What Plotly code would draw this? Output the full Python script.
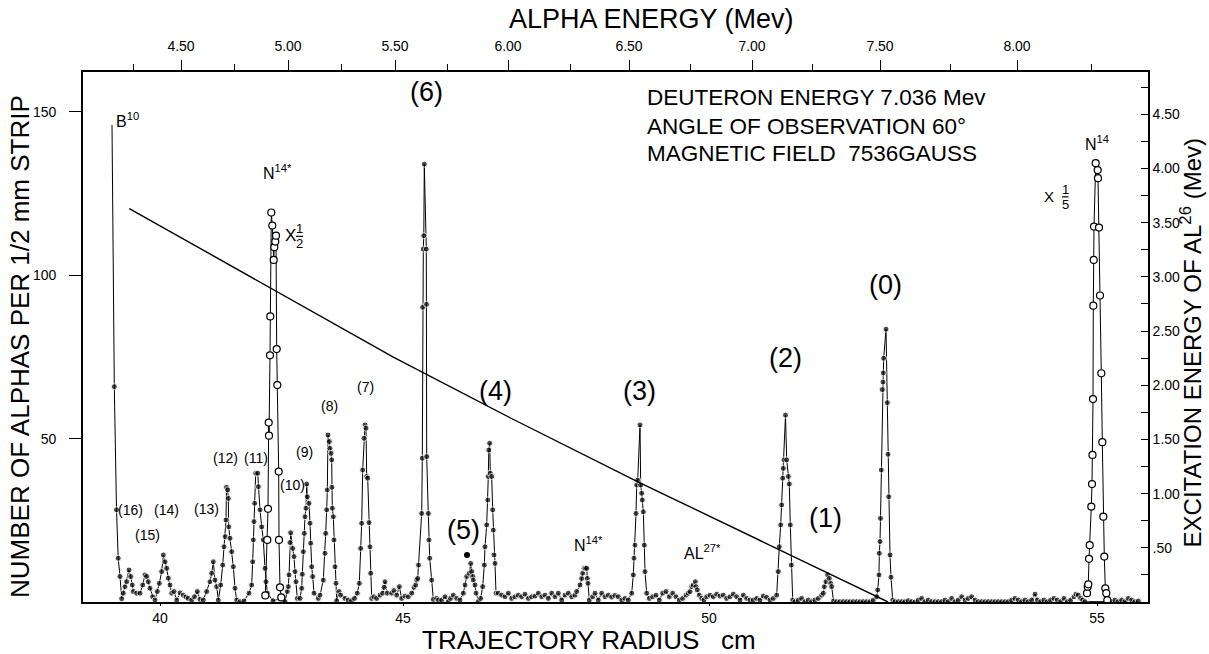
import plotly.graph_objects as go

FONT = "Liberation Sans, Arial, sans-serif"

# ---- axis tick data (positions along the plate, in plate-position units) ----
radius_tick_pos = [160, 403, 709, 1097]
radius_tick_text = ["40", "45", "50", "55"]

energy_major_pos = [181, 288, 395, 508, 629, 752, 880, 1017]
energy_major_text = ["4.50", "5.00", "5.50", "6.00", "6.50", "7.00", "7.50", "8.00"]
energy_minor_pos = [133, 234, 341, 447, 570, 690, 812, 950, 1091]

count_ticks = [50, 100, 150]
excitation_ticks = [0.5, 1.0, 1.5, 2.0, 2.5, 3.0, 3.5, 4.0, 4.5]
excitation_text = [".50", "1.00", "1.50", "2.00", "2.50", "3.00", "3.50", "4.00", "4.50"]

# ---- spectrum: filled points (position, counts per 1/2 mm strip) ----
filled_points = [
    (112.0, 146.0), (114.3, 65.9), (116.5, 28.2), (118.2, 13.4), (120.0, 7.8), (121.7, 1.0), (123.3, 2.7),
    (125.0, 4.7), (126.7, 6.2), (129.0, 9.8), (130.7, 7.8), (132.3, 5.2), (133.3, 3.2), (136.7, 2.7),
    (140.0, 2.7), (142.7, 5.2), (145.0, 8.3), (146.7, 7.8), (148.3, 6.2), (150.0, 4.2), (152.7, 1.6),
    (155.0, 0.6), (157.3, 3.2), (159.3, 5.7), (161.7, 9.3), (163.3, 14.4), (165.0, 12.3), (166.7, 10.3),
    (168.3, 7.3), (170.0, 5.2), (171.7, 2.7), (174.0, 3.2), (176.7, 0.6), (180.0, 2.8), (183.3, 2.1),
    (186.0, 1.5), (188.3, 1.1), (191.7, 0.6), (194.5, 1.6), (197.3, 3.2), (200.0, 0.8), (203.3, 0.6),
    (206.7, 3.2), (210.0, 6.2), (211.7, 8.8), (213.3, 12.3), (215.0, 6.7), (216.7, 4.7), (218.3, 0.6),
    (220.7, 5.2), (222.7, 11.3), (224.0, 16.9), (225.3, 20.0), (226.0, 25.1), (226.5, 35.1), (227.7, 34.3),
    (228.3, 31.7), (228.7, 23.0), (230.0, 19.5), (231.7, 15.4), (233.3, 10.8), (235.0, 4.2), (236.7, 0.6),
    (240.0, 0.1), (244.0, 0.3), (249.0, 2.7), (251.7, 5.2), (252.7, 12.3), (253.3, 19.0), (254.0, 24.6),
    (254.7, 30.2), (255.7, 39.4), (257.7, 39.4), (258.3, 35.3), (260.0, 28.2), (261.7, 23.0), (263.3, 19.0),
    (265.0, 10.3), (266.0, 6.2), (267.3, 2.7), (273.0, 0.4), (280.5, 1.0), (285.0, 0.1), (287.3, 3.2),
    (288.3, 4.7), (289.0, 8.3), (290.0, 18.2), (290.7, 21.2), (292.7, 16.4), (294.0, 13.9), (295.0, 9.3),
    (296.0, 6.2), (297.3, 1.1), (300.0, 1.1), (301.7, 4.2), (302.3, 8.5), (303.3, 15.4), (304.3, 21.0),
    (305.0, 26.1), (306.0, 28.7), (306.7, 36.1), (307.3, 32.2), (309.0, 30.2), (310.0, 24.1), (310.7, 18.0),
    (311.7, 10.8), (312.7, 7.8), (314.0, 2.7), (318.3, 1.1), (320.0, 2.1), (323.3, 6.7), (325.0, 14.9),
    (325.7, 21.0), (326.7, 28.2), (327.3, 34.3), (328.0, 51.1), (329.3, 49.1), (330.0, 47.0), (331.0, 45.5),
    (331.7, 43.5), (331.9, 35.1), (332.3, 28.7), (333.3, 26.1), (334.0, 19.0), (335.0, 10.8), (336.0, 5.7),
    (336.7, 0.4), (339.0, 3.2), (340.7, 2.1), (345.0, 1.1), (348.3, 0.6), (351.7, 0.4), (354.5, 1.1),
    (357.3, 2.7), (359.3, 5.7), (360.7, 16.4), (361.7, 24.1), (362.7, 40.4), (364.0, 50.1), (365.0, 54.2),
    (366.0, 53.2), (366.7, 38.4), (367.7, 37.9), (369.0, 24.3), (370.0, 16.9), (370.7, 8.8), (371.7, 1.1),
    (374.0, 1.6), (376.7, 1.1), (380.0, 2.1), (382.7, 2.7), (384.0, 4.5), (385.0, 6.2), (387.3, 2.7),
    (391.7, 2.7), (394.0, 3.5), (396.7, 2.1), (399.3, 4.7), (401.7, 1.1), (405.0, 1.8), (408.3, 1.6),
    (411.7, 2.7), (414.0, 4.5), (415.7, 5.2), (416.7, 6.7), (417.7, 7.2), (418.5, 11.3), (421.7, 27.1),
    (422.3, 44.0), (422.7, 90.2), (423.3, 108.0), (423.8, 112.1), (424.3, 134.0), (426.3, 108.0), (426.5, 91.1),
    (426.7, 44.5), (428.3, 27.1), (429.0, 19.0), (429.7, 13.4), (431.7, 6.7), (433.3, 0.8), (436.7, 1.1),
    (438.5, 0.6), (441.7, 0.6), (445.0, 1.6), (448.3, 0.1), (450.5, 1.1), (453.3, 2.1), (456.7, 1.1),
    (460.0, 0.6), (463.3, 2.7), (465.0, 5.2), (466.7, 7.8), (469.3, 8.8), (470.7, 11.8), (471.7, 9.3),
    (472.7, 7.8), (473.3, 6.7), (475.0, 5.2), (476.0, 2.7), (478.3, 0.1), (480.7, 1.1), (482.7, 4.7),
    (484.3, 11.3), (485.0, 16.9), (486.7, 23.6), (487.8, 31.2), (488.3, 38.4), (488.8, 46.5), (489.7, 48.6),
    (490.3, 39.4), (491.7, 38.4), (492.7, 28.2), (493.3, 22.0), (494.0, 14.4), (495.0, 11.8), (496.0, 2.7),
    (498.3, 2.7), (501.7, 2.1), (505.0, 1.6), (508.3, 2.7), (511.7, 1.1), (515.0, 1.6), (518.3, 2.1),
    (521.7, 1.6), (525.0, 2.4), (528.3, 1.1), (531.7, 1.6), (535.0, 1.8), (538.3, 2.7), (541.7, 1.6),
    (545.0, 2.1), (548.3, 1.1), (551.7, 2.7), (555.0, 1.6), (558.3, 2.7), (561.7, 0.6), (565.0, 2.1),
    (568.3, 2.7), (571.7, 1.6), (575.0, 2.1), (576.7, 3.2), (580.0, 5.2), (581.7, 7.2), (582.7, 8.8),
    (584.0, 10.3), (585.3, 10.3), (586.7, 10.3), (587.3, 7.2), (588.0, 5.7), (589.3, 0.6), (592.7, 1.6),
    (595.0, 2.7), (598.3, 0.6), (601.7, 2.7), (605.0, 1.6), (608.3, 2.1), (611.7, 1.5), (615.0, 2.0),
    (618.3, 1.6), (621.7, 0.6), (625.0, 1.1), (628.3, 0.6), (631.7, 2.7), (633.3, 8.3), (634.0, 13.4),
    (635.0, 17.4), (636.0, 27.1), (636.7, 35.8), (637.7, 37.3), (640.0, 54.2), (640.7, 35.8), (641.7, 33.3),
    (642.3, 31.2), (643.3, 27.6), (644.3, 17.4), (645.0, 9.3), (646.7, 2.7), (649.3, 1.1), (652.7, 1.6),
    (656.0, 2.1), (659.3, 0.6), (662.7, 2.7), (666.0, 3.2), (669.3, 1.6), (672.7, 2.7), (676.0, 1.6),
    (679.3, 0.6), (682.7, 1.1), (686.0, 2.1), (688.3, 2.7), (690.0, 3.2), (691.7, 4.7), (693.3, 5.2),
    (695.3, 6.2), (696.0, 4.7), (697.3, 3.7), (699.3, 2.1), (701.7, 1.1), (704.0, 0.6), (706.7, 1.6),
    (710.0, 2.1), (713.3, 1.6), (716.7, 2.4), (720.0, 1.8), (723.3, 2.1), (726.7, 1.1), (730.0, 1.6),
    (733.3, 2.4), (736.7, 1.6), (740.0, 0.6), (743.3, 2.1), (746.7, 1.1), (750.0, 0.6), (753.3, 0.6),
    (756.7, 1.1), (760.0, 0.6), (763.3, 1.8), (766.7, 1.4), (770.0, 0.6), (773.3, 1.1), (776.7, 2.1),
    (778.3, 9.3), (779.3, 16.9), (780.7, 23.6), (781.7, 29.7), (782.7, 37.9), (783.3, 40.9), (784.0, 43.5),
    (785.5, 57.2), (786.7, 43.5), (788.3, 38.4), (789.3, 36.1), (790.3, 23.6), (791.3, 11.3), (792.7, 0.6),
    (795.0, 0.1), (798.3, 0.6), (801.7, 1.1), (805.0, 0.1), (808.3, 0.6), (811.7, 0.1), (815.0, 0.6),
    (818.3, 1.1), (821.7, 2.1), (823.3, 2.7), (824.3, 4.7), (826.0, 6.2), (827.7, 8.3), (829.3, 7.2),
    (830.7, 5.7), (831.7, 4.7), (833.5, 0.3), (836.7, 0.1), (840.0, 0.1), (843.3, 0.1), (846.7, 0.1),
    (850.0, 0.1), (853.3, 0.1), (856.7, 0.1), (860.0, 0.1), (863.3, 0.1), (866.7, 0.1), (870.0, 0.1),
    (873.3, 0.6), (876.7, 1.6), (877.7, 3.7), (879.0, 8.3), (879.3, 14.9), (880.0, 18.5), (880.5, 25.6),
    (881.3, 40.4), (882.3, 65.0), (883.0, 67.3), (883.3, 70.1), (883.7, 74.6), (886.0, 83.5), (887.3, 61.0),
    (888.0, 45.2), (888.7, 32.2), (890.0, 14.4), (891.0, 7.6), (892.7, 0.6), (895.0, 0.1), (898.3, 0.1),
    (901.7, 0.1), (905.0, 0.1), (908.3, 0.4), (911.7, 0.1), (915.0, 0.0), (918.3, 0.6), (921.7, 1.1),
    (925.0, 0.1), (928.3, 0.6), (931.7, 0.1), (935.0, 0.1), (938.3, 0.1), (941.7, 0.1), (945.0, 0.6),
    (948.3, 0.1), (951.7, 1.1), (955.0, 0.1), (958.3, 0.6), (961.7, 1.6), (965.0, 0.6), (968.3, 1.1),
    (971.7, 1.6), (975.0, 0.6), (978.3, 0.1), (981.7, 0.1), (985.0, 0.1), (988.3, 0.1), (991.7, 0.1),
    (995.0, 0.1), (998.3, 0.1), (1001.7, 0.1), (1005.0, 0.1), (1008.3, 0.1), (1011.7, 0.6), (1015.0, 1.1),
    (1018.3, 0.6), (1021.7, 0.1), (1025.0, 0.6), (1028.3, 0.1), (1031.7, 0.6), (1035.0, 2.4), (1037.3, 0.6),
    (1040.7, 0.1), (1044.0, 0.6), (1047.3, 0.1), (1050.7, 0.6), (1054.0, 1.1), (1057.3, 0.6), (1060.7, 0.1),
    (1064.0, 1.1), (1067.3, 0.1), (1070.7, 0.6), (1074.0, 1.6), (1076.0, 2.4), (1078.3, 2.1), (1080.7, 1.1),
    (1082.7, 0.6), (1085.0, 0.1), (1108.5, 0.3), (1111.7, 0.1), (1115.0, 0.6), (1118.3, 0.1), (1121.7, 0.6),
    (1125.0, 0.1), (1128.3, 1.1), (1131.7, 0.6), (1135.0, 0.1), (1138.3, 0.3),
]

# isolated filled point above peak (5)
stray_pos = [467.0]
stray_counts = [14.4]

# N14* group, plotted x 1/2 (open circles)
n14star_pos = [265.3, 267.3, 268.0, 268.7, 269.0, 270.0, 270.3, 271.3, 272.3, 273.7, 274.3, 275.3,
               276.0, 276.7, 277.3, 278.7, 279.0, 280.0, 281.3]
n14star_counts = [2.0, 19.0, 28.5, 54.9, 50.9, 75.5, 87.4, 119.2, 115.2, 104.7, 108.6, 110.3,
                  112.1, 77.4, 66.4, 39.9, 19.0, 4.5, 1.4]

# N14 ground-state group, plotted x 1/5 (open circles)
n14_pos = [1087.0, 1087.7, 1088.3, 1089.0, 1089.7, 1091.3, 1092.0, 1092.5, 1093.0, 1093.3, 1093.7, 1094.0,
           1095.7, 1097.7, 1098.0, 1099.0, 1100.0, 1101.3, 1102.3, 1103.3, 1104.3, 1105.3, 1106.3, 1107.3]
n14_counts = [2.7, 4.7, 5.4, 13.2, 17.4, 29.2, 36.1, 45.0, 62.1, 90.7, 104.7, 114.9,
              134.3, 132.2, 129.7, 114.6, 93.8, 70.0, 48.9, 26.1, 13.9, 4.2, 2.7, 0.6]

# excitation-energy calibration curve of Al26 (right axis, MeV)
calib_pos = [129.3, 273.3, 393.3, 510.0, 640.0, 888.0]
calib_ex = [3.63, 2.88, 2.26, 1.70, 1.10, 0.0]

filled_pos = [p for p, c in filled_points]
filled_counts = [c for p, c in filled_points]
filled_sizes = [0] + [6] * (len(filled_points) - 1)

fig = go.Figure()
fig.add_trace(go.Scatter(x=filled_pos, y=filled_counts, mode="lines+markers",
                         line=dict(color="black", width=1),
                         marker=dict(color="black", size=filled_sizes),
                         showlegend=False, hoverinfo="skip"))
fig.add_trace(go.Scatter(x=stray_pos, y=stray_counts, mode="markers",
                         marker=dict(color="black", size=6), showlegend=False, hoverinfo="skip"))
for px_, cy_ in ((n14star_pos, n14star_counts), (n14_pos, n14_counts)):
    fig.add_trace(go.Scatter(x=px_, y=cy_, mode="lines+markers",
                             line=dict(color="black", width=1),
                             marker=dict(color="white", size=7, line=dict(color="black", width=1.2)),
                             showlegend=False, hoverinfo="skip"))
fig.add_trace(go.Scatter(x=calib_pos, y=calib_ex, yaxis="y2", mode="lines",
                         line=dict(color="black", width=1.4), showlegend=False, hoverinfo="skip"))
# invisible trace to activate the top energy axis
fig.add_trace(go.Scatter(x=[None], y=[None], xaxis="x2", mode="markers",
                         showlegend=False, hoverinfo="skip"))

X_RANGE = [83, 1148]
fig.update_layout(
    template="none",
    width=1209, height=654,
    margin=dict(l=83, r=61, t=72, b=52, pad=0),
    paper_bgcolor="white", plot_bgcolor="white",
    font=dict(family=FONT, color="black", size=14),
    xaxis=dict(range=X_RANGE, tickmode="array", tickvals=radius_tick_pos, ticktext=radius_tick_text,
               ticks="outside", ticklen=2, tickwidth=1.2, tickcolor="black", automargin=False,
               showline=True, linecolor="black", linewidth=1.6, showgrid=False, zeroline=False,
               tickfont=dict(size=14)),
    xaxis2=dict(range=X_RANGE, overlaying="x", side="top", tickmode="array",
                tickvals=energy_major_pos, ticktext=energy_major_text, automargin=False,
                ticks="outside", ticklen=10, tickwidth=1.2, tickcolor="black", ticklabelstandoff=4,
                minor=dict(tickmode="array", tickvals=energy_minor_pos, ticks="outside",
                           ticklen=6, tickwidth=1, tickcolor="black", showgrid=False),
                showline=True, linecolor="black", linewidth=1.6, showgrid=False, zeroline=False,
                tickfont=dict(size=14)),
    yaxis=dict(range=[0, 162.2], tickmode="array", tickvals=count_ticks, automargin=False,
               ticks="outside", ticklen=12, tickwidth=1.2, tickcolor="black", ticklabelstandoff=10,
               showline=True, linecolor="black", linewidth=1.6, showgrid=False, zeroline=False,
               tickfont=dict(size=14)),
    yaxis2=dict(range=[0, 4.89], overlaying="y", side="right", tickmode="array", automargin=False,
                tickvals=excitation_ticks, ticktext=excitation_text,
                ticks="inside", ticklen=7, tickwidth=1.1, tickcolor="black",
                minor=dict(dtick=0.25, tick0=0, ticks="inside", ticklen=7, tickwidth=1,
                           tickcolor="black", showgrid=False),
                showline=True, linecolor="black", linewidth=1.6, showgrid=False, zeroline=False,
                tickfont=dict(size=14)),
)

ann = []
def T(x, y, text, size, xref="x", yref="y", angle=0, xanchor="center"):
    ann.append(dict(x=x, y=y, xref=xref, yref=yref, text=text, showarrow=False, textangle=angle,
                    xanchor=xanchor, yanchor="middle", font=dict(family=FONT, size=size, color="black")))

# axis titles
T(0.534, 1.100, "ALPHA ENERGY (Mev)", 27, "paper", "paper")
T(0.475, -0.0710, "TRAJECTORY RADIUS\u00a0\u00a0\u00a0cm", 26, "paper", "paper")
T(-0.0592, 0.483, "NUMBER OF ALPHAS PER 1/2 mm STRIP", 26, "paper", "paper", angle=-90)
T(1.040, 0.489, "EXCITATION ENERGY OF AL<sup>26</sup> (Mev)", 24, "paper", "paper", angle=-90)

# experiment conditions
T(645, 154.3, "DEUTERON ENERGY 7.036 Mev", 22.5, xanchor="left")
T(645, 145.4, "ANGLE OF OBSERVATION 60°", 22.5, xanchor="left")
T(645, 137.2, "MAGNETIC FIELD\u00a0\u00a07536GAUSS", 22.5, xanchor="left")

# level labels
for x, y, t, s in [(426, 156.1, "(6)", 27), (885, 97.0, "(0)", 27), (785, 74.7, "(2)", 27),
                   (639, 64.6, "(3)", 27), (495, 64.6, "(4)", 27), (463, 22.0, "(5)", 27),
                   (825, 25.7, "(1)", 27),
                   (365, 65.8, "(7)", 14), (329, 60.0, "(8)", 14), (304, 45.9, "(9)", 14),
                   (292.7, 35.8, "(10)", 14), (255.7, 44.1, "(11)", 14), (225.7, 44.1, "(12)", 14),
                   (206.7, 28.5, "(13)", 14), (166, 28.2, "(14)", 14), (147.3, 20.5, "(15)", 14),
                   (130, 28.2, "(16)", 14)]:
    T(x, y, t, s)

T(127, 147.5, "B<sup>10</sup>", 16)
T(277, 131.5, "N<sup>14*</sup>", 16)
T(588, 17.6, "N<sup>14*</sup>", 16)
T(702, 15.2, "AL<sup>27*</sup>", 16)
T(1097, 140.5, "N<sup>14</sup>", 16)
# x 1/2
T(290, 112.3, "X", 17)
T(299.5, 114.2, "1", 13)
T(299.5, 109.6, "2", 13)
# x 1/5
T(1049, 124.0, "X", 15)
T(1065, 126.3, "1", 13)
T(1065, 121.6, "5", 13)
fig.update_layout(annotations=ann)

# fraction bars
fig.add_shape(type="line", x0=296, x1=303, y0=111.9, y1=111.9, line=dict(color="black", width=1.2))
fig.add_shape(type="line", x0=1062, x1=1068.5, y0=124.0, y1=124.0, line=dict(color="black", width=1.2))

# remove the browser's default 8 px body margin so the figure sits at the page origin
fig.write_html("out.html", config={"displayModeBar": False},
               post_script="document.body.style.margin = '0px';")
